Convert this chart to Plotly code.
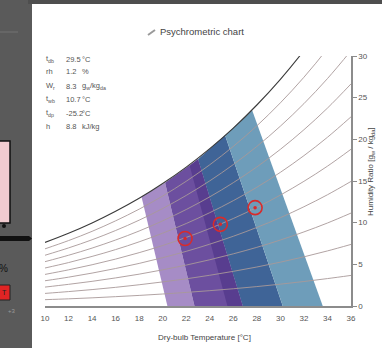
import plotly.graph_objects as go

# ---------------- data ----------------
temps = [10, 12, 14, 16, 18, 20, 22, 24, 26, 28, 30, 32, 34, 36]
rh10 = [0.76, 0.86, 0.98, 1.12, 1.27, 1.44, 1.63, 1.84, 2.07, 2.33, 2.62, 2.94, 3.29, 3.67]
rh20 = [1.51, 1.73, 1.97, 2.24, 2.55, 2.89, 3.26, 3.69, 4.16, 4.68, 5.26, 5.90, 6.61, 7.39]
rh30 = [2.27, 2.60, 2.96, 3.37, 3.82, 4.34, 4.91, 5.55, 6.26, 7.04, 7.92, 8.89, 9.96, 11.15]
rh40 = [3.03, 3.46, 3.95, 4.50, 5.11, 5.80, 6.56, 7.42, 8.37, 9.43, 10.60, 11.91, 13.35, 14.95]
rh50 = [3.79, 4.34, 4.95, 5.63, 6.40, 7.26, 8.23, 9.30, 10.50, 11.83, 13.31, 14.96, 16.78, 18.81]
rh60 = [4.56, 5.21, 5.95, 6.77, 7.70, 8.74, 9.90, 11.20, 12.64, 14.25, 16.04, 18.04, 20.25, 22.70]
rh70 = [5.32, 6.09, 6.95, 7.92, 9.00, 10.22, 11.58, 13.10, 14.80, 16.69, 18.80, 21.15, 23.75, 26.65]
rh80 = [6.09, 6.97, 7.95, 9.06, 10.30, 11.70, 13.27, 15.02, 16.97, 19.15, 21.58, 24.28, 27.29, 30.64]
rh90 = [6.86, 7.85, 8.96, 10.22, 11.62, 13.20, 14.97, 16.95, 19.15, 21.62, 24.38, 27.45, 30.88, 34.69]
sat = [7.63, 8.73, 9.97, 11.37, 12.93, 14.70, 16.67, 18.89, 21.35, 24.12, 27.20, 30.65, 34.49, 38.78]

# comfort band boundaries: top point on saturation curve, bottom point on W=0
bound_top_t = [18.2, 20.2, 23.0, 25.3, 27.6]
bound_top_w = [13.1, 14.8, 17.6, 20.5, 23.5]
bound_bot_t = [20.4, 22.7, 26.8, 30.2, 33.6]
band_colors = ["#a68cc6", "#6c4f9f", "#3f6497", "#6e9dba"]
# darker strip inside the second band
strip_top_t = [22.3, 23.0]
strip_top_w = [16.8, 17.6]
strip_bot_t = [25.5, 26.8]

pts_t = [21.9, 24.9, 27.85]
pts_w = [8.1, 9.8, 11.8]

x_ticks = list(range(10, 37, 2))
y_ticks = [0, 5, 10, 15, 20, 25, 30]

info_labels = ["t<sub>db</sub>", "rh", "W<sub>r</sub>", "t<sub>wb</sub>", "t<sub>dp</sub>", "h"]
info_values = ["29.5", "1.2", "8.3", "10.7", "-25.2", "8.8"]
info_units = ["°C", "%", "g<sub>w</sub>/kg<sub>da</sub>", "°C", "°C", "kJ/kg"]

# ---------------- layout geometry ----------------
W, H = 382, 348
L, R, T, B = 45, 31, 56, 42
PW, PH = W - L - R, H - T - B


def px(x):
    return (x - L) / PW


def py(y):
    return (H - B - y) / PH


FONT = "Liberation Sans, Arial, sans-serif"
fig = go.Figure()

# bands
for i in range(4):
    xs = [bound_top_t[i], bound_top_t[i + 1], bound_bot_t[i + 1], bound_bot_t[i], bound_top_t[i]]
    ys = [bound_top_w[i], bound_top_w[i + 1], 0, 0, bound_top_w[i]]
    fig.add_trace(go.Scatter(x=xs, y=ys, fill="toself", fillcolor=band_colors[i],
                             line=dict(width=0), mode="lines", hoverinfo="skip", showlegend=False))
xs = [strip_top_t[0], strip_top_t[1], strip_bot_t[1], strip_bot_t[0], strip_top_t[0]]
ys = [strip_top_w[0], strip_top_w[1], 0, 0, strip_top_w[0]]
fig.add_trace(go.Scatter(x=xs, y=ys, fill="toself", fillcolor="#583d8f",
                         line=dict(width=0), mode="lines", hoverinfo="skip", showlegend=False))

# RH curves
for curve in [rh10, rh20, rh30, rh40, rh50, rh60, rh70, rh80, rh90]:
    fig.add_trace(go.Scatter(x=temps, y=curve, mode="lines",
                             line=dict(color="#a89898", width=0.9, shape="spline"),
                             hoverinfo="skip", showlegend=False))
fig.add_trace(go.Scatter(x=temps, y=sat, mode="lines",
                         line=dict(color="#3a3a3a", width=1.1, shape="spline"),
                         hoverinfo="skip", showlegend=False))

# state points
fig.add_trace(go.Scatter(x=pts_t, y=pts_w, mode="markers",
                         marker=dict(symbol="circle-open", size=14, color="#d92b2b",
                                     line=dict(width=1.6, color="#d92b2b")),
                         showlegend=False))
fig.add_trace(go.Scatter(x=pts_t, y=pts_w, mode="markers",
                         marker=dict(symbol="circle", size=3.5, color="#d92b2b"),
                         showlegend=False))

shapes = []
annotations = []

# left dark panel and top strip
shapes.append(dict(type="rect", xref="paper", yref="paper", x0=px(0), x1=px(32), y0=py(348), y1=py(0),
                   fillcolor="#5a5a5a", line=dict(width=0), layer="above"))
shapes.append(dict(type="rect", xref="paper", yref="paper", x0=px(28), x1=px(382), y0=py(4), y1=py(0),
                   fillcolor="#4e4e4e", line=dict(width=0), layer="above"))
shapes.append(dict(type="line", xref="paper", yref="paper", x0=px(0), x1=px(18), y0=py(32), y1=py(32),
                   line=dict(color="#727272", width=1), layer="above"))
shapes.append(dict(type="rect", xref="paper", yref="paper", x0=px(-2), x1=px(10), y0=py(223), y1=py(141),
                   fillcolor="#f2cbd0", line=dict(color="#111", width=1.5), layer="above"))
shapes.append(dict(type="circle", xref="paper", yref="paper", x0=px(2), x1=px(6), y0=py(228), y1=py(224),
                   fillcolor="#111", line=dict(width=0), layer="above"))
shapes.append(dict(type="path", xref="paper", yref="paper",
                   path=f"M {px(0)},{py(236)} L {px(29)},{py(236)} L {px(32)},{py(238.5)} L {px(29)},{py(241)} L {px(0)},{py(241)} Z",
                   fillcolor="#111", line=dict(width=0), layer="above"))
shapes.append(dict(type="rect", xref="paper", yref="paper", x0=px(-2), x1=px(10), y0=py(300), y1=py(285),
                   fillcolor="#e02424", line=dict(color="#222", width=1), layer="above"))
annotations.append(dict(xref="paper", yref="paper", x=px(10), y=py(268), text="%", showarrow=False,
                        xanchor="right", yanchor="middle", font=dict(size=10, color="#111", family=FONT)))
annotations.append(dict(xref="paper", yref="paper", x=px(9), y=py(292.5), text="T", showarrow=False,
                        xanchor="right", yanchor="middle", font=dict(size=7, color="#222", family=FONT)))
annotations.append(dict(xref="paper", yref="paper", x=px(12), y=py(311), text="+3", showarrow=False,
                        xanchor="center", yanchor="middle", font=dict(size=6, color="#9a9a9a", family=FONT)))

# title with small icon
shapes.append(dict(type="line", xref="paper", yref="paper", x0=px(148), x1=px(155), y0=py(35), y1=py(30),
                   line=dict(color="#9a9a9a", width=2), layer="above"))
annotations.append(dict(xref="paper", yref="paper", x=px(158), y=py(32), text="Psychrometric chart",
                        showarrow=False, xanchor="left", yanchor="middle",
                        font=dict(size=9.5, color="#444", family=FONT)))

# info block
row_y = [59, 72, 86, 99, 113, 126]
for i in range(6):
    annotations.append(dict(xref="paper", yref="paper", x=px(44), y=py(row_y[i]), text=info_labels[i],
                            showarrow=False, xanchor="left", yanchor="middle",
                            font=dict(size=7.5, color="#555", family=FONT)))
    annotations.append(dict(xref="paper", yref="paper", x=px(64), y=py(row_y[i]), text=info_values[i],
                            showarrow=False, xanchor="left", yanchor="middle",
                            font=dict(size=7.5, color="#555", family=FONT)))
    annotations.append(dict(xref="paper", yref="paper", x=px(80), y=py(row_y[i]), text=info_units[i],
                            showarrow=False, xanchor="left", yanchor="middle",
                            font=dict(size=7.5, color="#555", family=FONT)))

# axis titles
annotations.append(dict(xref="paper", yref="paper", x=px(204), y=py(337), text="Dry-bulb Temperature [°C]",
                        showarrow=False, xanchor="center", yanchor="middle",
                        font=dict(size=8, color="#444", family=FONT)))
annotations.append(dict(xref="paper", yref="paper", x=px(371), y=py(172),
                        text="Humidity Ratio [g<sub>w</sub> / kg<sub>da</sub>]", textangle=-90,
                        showarrow=False, xanchor="center", yanchor="middle",
                        font=dict(size=8, color="#444", family=FONT)))

fig.update_layout(
    width=W, height=H,
    margin=dict(l=L, r=R, t=T, b=B),
    paper_bgcolor="white", plot_bgcolor="white",
    showlegend=False,
    shapes=shapes, annotations=annotations,
    font=dict(family=FONT),
)
fig.update_xaxes(range=[10, 36], tickvals=x_ticks, showgrid=False, zeroline=False,
                 showline=True, linecolor="#8c8c8c", linewidth=1.5,
                 ticks="outside", ticklen=4, tickcolor="rgba(0,0,0,0)",
                 tickfont=dict(size=8, color="#555", family=FONT))
fig.update_yaxes(range=[0, 30], tickvals=y_ticks, side="right", showgrid=False, zeroline=False,
                 showline=True, linecolor="#8c8c8c", linewidth=1.5,
                 ticks="outside", ticklen=4, tickcolor="#8c8c8c",
                 tickfont=dict(size=8, color="#555", family=FONT))

fig.write_html("out.html", config={"displayModeBar": False},
               post_script="document.body.style.margin='0';document.body.style.overflow='hidden';")
